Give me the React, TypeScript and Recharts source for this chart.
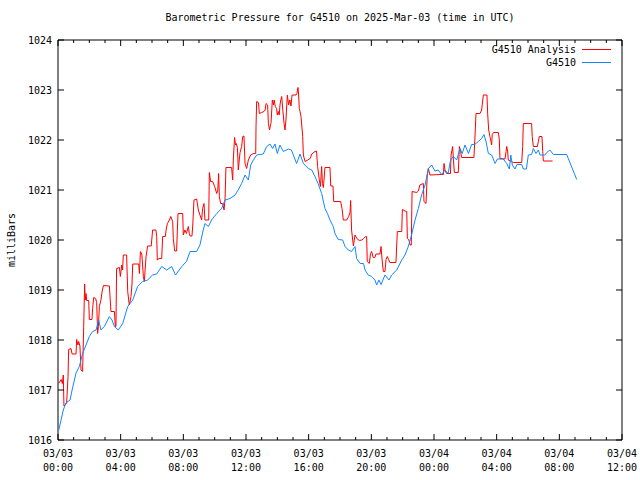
import React from 'react';
import { LineChart, Line, XAxis, YAxis, ReferenceArea } from 'recharts';

// hours since 03/03 00:00 UTC, pressure in mb
const analysisReadings: [number, number][] = [
  [0.04, 1017.13], [0.2, 1017.21], [0.28, 1017.13], [0.34, 1017.3], [0.38, 1016.68], [0.55, 1016.73],
  [0.64, 1017.27], [0.68, 1017.81], [0.83, 1017.83], [0.9, 1017.72], [1.15, 1017.72], [1.19, 1018.01],
  [1.27, 1017.9], [1.32, 1017.97], [1.4, 1017.88], [1.47, 1017.4], [1.57, 1017.37], [1.64, 1018.27],
  [1.7, 1019.12], [1.74, 1018.8], [1.79, 1018.93], [1.83, 1018.79], [1.96, 1018.79], [2.0, 1018.41],
  [2.17, 1018.41], [2.21, 1018.63], [2.28, 1018.85], [2.4, 1018.83], [2.47, 1018.75], [2.53, 1018.13],
  [2.58, 1018.27], [2.64, 1018.67], [2.74, 1018.8], [2.81, 1018.96], [2.9, 1019.09], [3.28, 1019.08],
  [3.38, 1018.57], [3.6, 1018.57], [3.66, 1018.27], [3.7, 1018.27], [3.74, 1019.43], [3.92, 1019.45],
  [3.98, 1019.27], [4.07, 1019.5], [4.12, 1019.4], [4.17, 1019.7], [4.38, 1019.7], [4.45, 1018.97],
  [4.55, 1018.7], [4.66, 1018.87], [4.72, 1019.1], [4.77, 1019.52], [5.15, 1019.52], [5.2, 1019.33],
  [5.26, 1019.77], [5.35, 1019.72], [5.45, 1019.27], [5.51, 1019.17], [5.62, 1019.67], [5.72, 1019.88],
  [5.95, 1019.88], [6.04, 1020.2], [6.25, 1020.2], [6.3, 1020.07], [6.34, 1019.6], [6.45, 1019.63],
  [6.62, 1019.63], [6.68, 1020.07], [6.85, 1020.07], [6.9, 1020.2], [6.98, 1020.33], [7.11, 1020.4],
  [7.2, 1020.47], [7.32, 1020.37], [7.36, 1020.03], [7.45, 1019.78], [7.57, 1019.78], [7.66, 1020.53],
  [7.96, 1020.53], [8.0, 1020.1], [8.1, 1020.2], [8.2, 1020.13], [8.32, 1020.27], [8.38, 1020.13],
  [8.43, 1020.08], [8.55, 1020.08], [8.6, 1020.28], [8.68, 1020.8], [8.85, 1020.82], [8.96, 1020.6],
  [9.06, 1020.5], [9.17, 1020.4], [9.23, 1020.63], [9.32, 1020.73], [9.38, 1020.4], [9.62, 1020.4],
  [9.66, 1021.35], [9.74, 1021.17], [9.87, 1021.17], [10.0, 1021.07], [10.13, 1020.93], [10.2, 1021.0],
  [10.25, 1021.33], [10.3, 1020.87], [10.38, 1020.73], [10.51, 1020.73], [10.6, 1020.6], [10.66, 1020.8],
  [10.72, 1021.45], [11.08, 1021.45], [11.15, 1021.2], [11.19, 1021.6], [11.27, 1022.05], [11.33, 1021.9],
  [11.38, 1021.93], [11.45, 1021.85], [11.51, 1021.4], [11.57, 1021.6], [11.62, 1021.75], [11.72, 1021.87],
  [11.79, 1022.07], [11.87, 1022.08], [11.94, 1021.53], [12.04, 1021.43], [12.15, 1021.6], [12.3, 1021.7],
  [12.47, 1021.73], [12.62, 1021.73], [12.64, 1022.27], [12.68, 1022.77], [12.8, 1022.75], [12.85, 1022.53],
  [13.0, 1022.55], [13.15, 1022.57], [13.22, 1022.6], [13.28, 1022.73], [13.38, 1022.7], [13.43, 1022.33],
  [13.5, 1022.2], [13.6, 1022.35], [13.68, 1022.8], [13.75, 1022.7], [13.8, 1022.8], [13.87, 1022.67],
  [13.95, 1022.63], [14.0, 1022.5], [14.06, 1022.57], [14.12, 1022.5], [14.17, 1022.7], [14.22, 1022.8],
  [14.28, 1022.87], [14.35, 1022.6], [14.43, 1022.33], [14.49, 1022.2], [14.55, 1022.4], [14.64, 1022.9],
  [14.72, 1022.7], [14.8, 1022.8], [14.87, 1022.68], [14.94, 1022.9], [15.19, 1022.9], [15.25, 1022.93],
  [15.32, 1023.05], [15.36, 1022.9], [15.4, 1022.63], [15.45, 1022.57], [15.51, 1022.47], [15.62, 1022.07],
  [15.66, 1021.7], [15.77, 1021.57], [15.95, 1021.6], [16.09, 1021.63], [16.2, 1021.72], [16.4, 1021.77],
  [16.5, 1021.78], [16.57, 1021.47], [16.68, 1021.2], [16.75, 1021.07], [16.83, 1021.47], [16.88, 1021.13],
  [16.94, 1021.05], [17.04, 1021.45], [17.36, 1021.45], [17.41, 1021.08], [17.55, 1021.08], [17.6, 1020.77],
  [18.04, 1020.77], [18.13, 1020.63], [18.21, 1020.4], [18.43, 1020.4], [18.55, 1020.47], [18.64, 1020.55],
  [18.68, 1020.79], [18.74, 1020.2], [18.81, 1020.0], [18.86, 1019.88], [18.9, 1019.98], [18.96, 1020.1],
  [19.08, 1020.03], [19.23, 1019.99], [19.4, 1020.0], [19.5, 1020.03], [19.64, 1020.07], [19.7, 1020.07],
  [19.74, 1019.57], [19.87, 1019.53], [19.95, 1019.73], [20.02, 1019.77], [20.12, 1019.65], [20.22, 1019.65],
  [20.3, 1019.72], [20.55, 1019.72], [20.62, 1019.87], [20.66, 1019.7], [20.72, 1019.5], [20.77, 1019.37],
  [20.87, 1019.37], [20.94, 1019.61], [21.02, 1019.67], [21.1, 1019.61], [21.19, 1019.55], [21.57, 1019.55],
  [21.66, 1020.17], [21.94, 1020.17], [21.98, 1020.61], [22.15, 1020.58], [22.26, 1020.57], [22.3, 1020.03],
  [22.4, 1020.0], [22.47, 1019.9], [22.55, 1019.9], [22.6, 1020.97], [22.9, 1020.95], [23.0, 1020.98],
  [23.1, 1021.1], [23.32, 1021.13], [23.36, 1020.77], [23.49, 1020.73], [23.57, 1021.3], [23.64, 1021.43],
  [23.74, 1021.3], [24.38, 1021.31], [24.6, 1021.31], [24.64, 1021.53], [24.7, 1021.4], [24.8, 1021.33],
  [25.05, 1021.33], [25.09, 1021.7], [25.19, 1021.87], [25.24, 1021.6], [25.3, 1021.35], [25.55, 1021.35],
  [25.62, 1021.87], [25.7, 1021.77], [25.76, 1021.65], [26.55, 1021.65], [26.62, 1022.1], [26.68, 1022.53],
  [26.94, 1022.53], [27.04, 1022.6], [27.15, 1022.9], [27.38, 1022.9], [27.43, 1022.5], [27.49, 1022.2],
  [27.57, 1022.07], [27.62, 1022.0], [27.68, 1021.9], [27.72, 1022.11], [27.8, 1022.15], [28.11, 1022.15],
  [28.17, 1022.0], [28.21, 1021.63], [28.53, 1021.62], [28.6, 1021.77], [28.64, 1021.87], [28.7, 1021.78],
  [28.74, 1021.6], [28.96, 1021.57], [29.06, 1021.55], [29.6, 1021.55], [29.66, 1021.87], [29.7, 1022.33],
  [30.23, 1022.33], [30.27, 1022.07], [30.34, 1021.87], [30.6, 1021.87], [30.66, 1021.97], [30.72, 1022.07],
  [30.89, 1022.07], [30.94, 1021.77], [30.98, 1021.58], [31.57, 1021.58],
];

const stationReadings: [number, number][] = [
  [0.05, 1016.2], [0.34, 1016.6], [0.5, 1016.74], [0.77, 1016.8], [0.9, 1017.0], [1.15, 1017.34],
  [1.36, 1017.47], [1.57, 1017.73], [1.79, 1017.9], [2.0, 1018.07], [2.21, 1018.17], [2.43, 1018.2],
  [2.6, 1018.4], [2.74, 1018.2], [2.96, 1018.27], [3.28, 1018.47], [3.45, 1018.4], [3.6, 1018.27],
  [3.85, 1018.2], [4.13, 1018.33], [4.45, 1018.67], [4.77, 1018.8], [5.08, 1019.07], [5.4, 1019.17],
  [5.72, 1019.2], [6.04, 1019.3], [6.3, 1019.32], [6.62, 1019.47], [6.94, 1019.4], [7.26, 1019.47],
  [7.5, 1019.3], [7.9, 1019.47], [8.2, 1019.57], [8.43, 1019.77], [8.85, 1019.77], [9.06, 1019.9],
  [9.27, 1020.2], [9.38, 1020.33], [9.6, 1020.27], [9.8, 1020.4], [10.13, 1020.53], [10.45, 1020.63],
  [10.66, 1020.8], [10.98, 1020.83], [11.3, 1020.9], [11.5, 1021.0], [11.72, 1021.13], [11.94, 1021.3],
  [12.15, 1021.2], [12.3, 1021.5], [12.47, 1021.6], [12.68, 1021.7], [13.1, 1021.72], [13.32, 1021.87],
  [13.53, 1021.92], [13.7, 1021.83], [13.85, 1021.92], [14.0, 1021.73], [14.17, 1021.9], [14.38, 1021.77],
  [14.7, 1021.82], [14.9, 1021.8], [15.23, 1021.53], [15.45, 1021.72], [15.66, 1021.53], [15.98, 1021.43],
  [16.2, 1021.4], [16.4, 1021.27], [16.6, 1021.13], [16.83, 1020.93], [17.04, 1020.63], [17.2, 1020.53],
  [17.36, 1020.4], [17.57, 1020.27], [17.68, 1020.13], [17.89, 1020.01], [18.17, 1020.0], [18.32, 1019.87],
  [18.53, 1019.8], [18.74, 1019.77], [18.96, 1019.87], [19.06, 1019.63], [19.28, 1019.53], [19.5, 1019.53],
  [19.6, 1019.4], [19.8, 1019.3], [20.02, 1019.27], [20.23, 1019.2], [20.34, 1019.1], [20.49, 1019.2],
  [20.62, 1019.11], [20.87, 1019.3], [21.13, 1019.2], [21.3, 1019.3], [21.62, 1019.4], [21.94, 1019.6],
  [22.15, 1019.7], [22.36, 1019.87], [22.57, 1020.1], [22.79, 1020.4], [23.0, 1020.63], [23.21, 1020.9],
  [23.43, 1021.1], [23.64, 1021.43], [23.85, 1021.5], [24.06, 1021.38], [24.27, 1021.4], [24.49, 1021.31],
  [24.7, 1021.4], [24.9, 1021.33], [25.06, 1021.6], [25.23, 1021.67], [25.45, 1021.6], [25.66, 1021.83],
  [25.8, 1021.73], [25.98, 1021.9], [26.2, 1021.73], [26.4, 1021.91], [26.6, 1021.91], [26.83, 1021.97],
  [27.04, 1022.03], [27.19, 1022.11], [27.32, 1021.97], [27.47, 1021.73], [27.68, 1021.7], [27.9, 1021.53],
  [28.05, 1021.62], [28.42, 1021.62], [28.64, 1021.53], [28.81, 1021.42], [28.9, 1021.7], [29.0, 1021.5],
  [29.17, 1021.42], [29.3, 1021.51], [29.6, 1021.51], [29.7, 1021.42], [29.9, 1021.42], [30.02, 1021.7],
  [30.23, 1021.71], [30.34, 1021.83], [30.51, 1021.73], [30.66, 1021.8], [30.77, 1021.7], [31.08, 1021.7],
  [31.2, 1021.75], [31.4, 1021.8], [31.62, 1021.71], [32.47, 1021.71], [33.11, 1021.21],
];

const yTicks = [1016, 1017, 1018, 1019, 1020, 1021, 1022, 1023, 1024];
const majorLabels: Record<number, [string, string]> = {
  0: ['03/03', '00:00'], 4: ['03/03', '04:00'], 8: ['03/03', '08:00'], 12: ['03/03', '12:00'],
  16: ['03/03', '16:00'], 20: ['03/03', '20:00'], 24: ['03/04', '00:00'], 28: ['03/04', '04:00'],
  32: ['03/04', '08:00'], 36: ['03/04', '12:00'],
};
const hourTicks = Array.from({ length: 37 }, (_, i) => i);

const analysisData = analysisReadings.map(([t, v]) => ({ t, v }));
const stationData = stationReadings.map(([t, v]) => ({ t, v }));

const FONT = '"DejaVu Sans Mono", monospace';
const PLOT_W = 564;
const PLOT_H = 400;
const RED = '#ff0000';
const BLUE = '#1287ff';

const XTick = (props: any) => {
  const { x, y, payload } = props;
  const lbl = majorLabels[payload.value];
  const len = lbl ? 6 : 3;
  return (
    <g>
      <line x1={x} y1={y} x2={x} y2={y - len} stroke="#000" />
      <line x1={x} y1={y - PLOT_H} x2={x} y2={y - PLOT_H + len} stroke="#000" />
      {lbl && (
        <text x={x} y={y + 17} textAnchor="middle" fontFamily={FONT} fontSize={10} fill="#000">
          <tspan x={x}>{lbl[0]}</tspan>
          <tspan x={x} dy={14}>{lbl[1]}</tspan>
        </text>
      )}
    </g>
  );
};

const YTick = (props: any) => {
  const { x, y, payload } = props;
  return (
    <g>
      <line x1={x} y1={y} x2={x + 6} y2={y} stroke="#000" />
      <line x1={x + PLOT_W} y1={y} x2={x + PLOT_W - 6} y2={y} stroke="#000" />
      <text x={x - 6} y={y + 4} textAnchor="end" fontFamily={FONT} fontSize={10} fill="#000">
        {payload.value}
      </text>
    </g>
  );
};

export default function App() {
  return (
    <div style={{ position: 'absolute', left: 0, top: 0, width: 640, height: 480, background: '#fff' }}>
      <LineChart width={640} height={480} margin={{ top: 40, right: 18, bottom: 10, left: 8 }}>
        <XAxis
          dataKey="t"
          type="number"
          domain={[0, 36]}
          ticks={hourTicks}
          interval={0}
          allowDataOverflow
          axisLine={false}
          tickLine={false}
          tickSize={0}
          tickMargin={0}
          height={30}
          tick={<XTick />}
        />
        <YAxis
          dataKey="v"
          type="number"
          domain={[1016, 1024]}
          ticks={yTicks}
          interval={0}
          allowDataOverflow
          axisLine={false}
          tickLine={false}
          tickSize={0}
          tickMargin={0}
          width={50}
          tick={<YTick />}
        />
        <ReferenceArea x1={0} x2={36} y1={1016} y2={1024} fill="none" stroke="#000" strokeWidth={1} ifOverflow="visible" />
        <Line data={analysisData} dataKey="v" stroke={RED} strokeWidth={1} dot={false} isAnimationActive={false} />
        <Line data={stationData} dataKey="v" stroke={BLUE} strokeWidth={1} dot={false} isAnimationActive={false} />
      </LineChart>

      <div style={{ position: 'absolute', left: 0, top: 12, width: 680, textAlign: 'center', fontFamily: FONT, fontSize: 10 }}>
        Barometric Pressure for G4510 on 2025-Mar-03 (time in UTC)
      </div>
      <div
        style={{
          position: 'absolute', left: 11, top: 240, fontFamily: FONT, fontSize: 10,
          transform: 'translate(-50%, -50%) rotate(-90deg)', whiteSpace: 'nowrap',
        }}
      >
        milliBars
      </div>
      <svg style={{ position: 'absolute', left: 0, top: 0 }} width={640} height={80}>
        <text x={576} y={53} textAnchor="end" fontFamily={FONT} fontSize={10}>G4510 Analysis</text>
        <line x1={582} y1={49.5} x2={611} y2={49.5} stroke={RED} />
        <text x={576} y={66} textAnchor="end" fontFamily={FONT} fontSize={10}>G4510</text>
        <line x1={582} y1={62.5} x2={611} y2={62.5} stroke={BLUE} />
      </svg>
    </div>
  );
}
